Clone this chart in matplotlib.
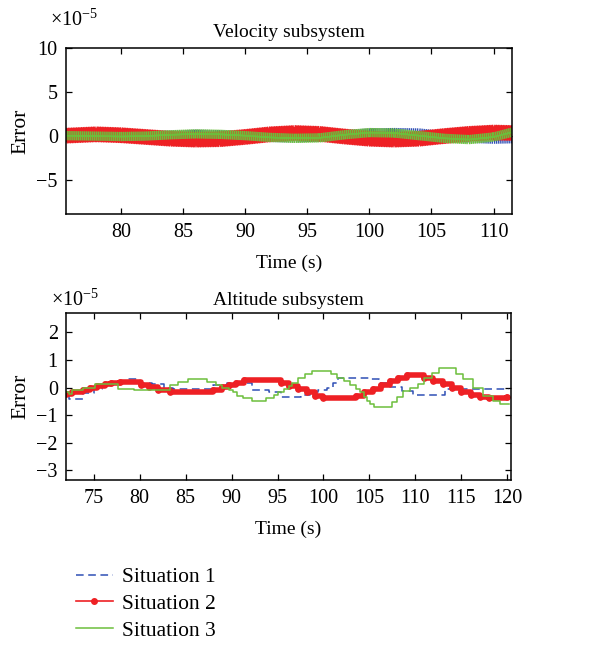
import numpy as np
import matplotlib
matplotlib.use("Agg")
import matplotlib.pyplot as plt
import matplotlib.patheffects as pe
from matplotlib.lines import Line2D

plt.rcParams['font.family'] = ['Liberation Serif', 'DejaVu Serif']
plt.rcParams['mathtext.fontset'] = 'custom'
plt.rcParams['mathtext.rm'] = 'Liberation Serif'

# ---- data (units of 1e-5) ----
# velocity subsystem: slow trend of each error signal (fast ripple drawn as stroke texture)
vel_t = [75.6, 78, 80, 82, 84, 86, 88, 90, 92, 94, 96, 98, 100, 102, 104, 106, 108, 110, 111.5]
vel_s1 = [0.0, 0.0, -0.05, 0.0, 0.05, 0.15, 0.1, -0.05, -0.2, -0.25, -0.15, 0.1, 0.3, 0.35, 0.3, 0.0, -0.3, -0.4, -0.35]
vel_s2 = [0.0, 0.15, 0.05, -0.15, -0.35, -0.45, -0.4, -0.15, 0.15, 0.3, 0.2, -0.1, -0.35, -0.45, -0.35, -0.05, 0.2, 0.35, 0.3]
vel_s3 = [0.0, -0.05, -0.1, -0.05, 0.1, 0.2, 0.15, 0.0, -0.2, -0.3, -0.25, 0.1, 0.35, 0.3, 0.0, -0.3, -0.45, -0.15, 0.4]

# altitude subsystem: step change points (time, value)
alt_t1 = [72.0, 72.3, 73.8, 75.0, 75.9, 76.9, 78.5, 80.0, 81.3, 82.7, 83.6, 88.0, 89.5, 91.0,
          92.2, 94.1, 95.4, 97.6, 98.5, 99.4, 100.4, 101.0, 101.6, 105.0, 106.0, 107.2, 108.5,
          109.7, 113.2, 120.2]
alt_s1 = [-0.3, -0.42, -0.2, -0.05, 0.06, 0.15, 0.3, 0.18, 0.12, 0.0, -0.06, 0.08, 0.18, 0.15,
          -0.08, -0.18, -0.33, -0.28, -0.18, -0.08, 0.0, 0.18, 0.36, 0.3, 0.18, 0.03, -0.12,
          -0.27, -0.06, -0.06]
alt_t2 = [72.0, 72.6, 73.8, 74.6, 75.4, 76.2, 76.9, 77.9, 80.1, 81.0, 82.0, 83.3, 88.0, 89.0,
          89.7, 90.5, 91.4, 95.4, 96.3, 97.25, 98.2, 99.1, 99.9, 103.5, 104.4, 105.4, 106.3,
          107.2, 108.1, 109.1, 110.9, 111.9, 113.0, 114.0, 115.0, 116.0, 117.0, 118.0, 120.0]
alt_s2 = [-0.22, -0.15, -0.08, 0.0, 0.06, 0.12, 0.18, 0.2, 0.08, 0.03, -0.08, -0.18, -0.1, 0.02,
          0.08, 0.18, 0.27, 0.18, 0.06, -0.06, -0.18, -0.3, -0.38, -0.3, -0.18, -0.04, 0.08,
          0.24, 0.36, 0.45, 0.36, 0.24, 0.12, 0.0, -0.15, -0.28, -0.35, -0.38, -0.36]
alt_t3 = [72.0, 72.3, 72.6, 73.8, 75.1, 77.6, 79.4, 83.3, 84.2, 85.3, 87.3, 88.3, 89.0, 89.7,
          90.2, 90.6, 91.25, 92.2, 93.7, 94.6, 95.1, 95.7, 96.2, 96.6, 97.25, 98.0, 98.7,
          100.8, 101.5, 102.25, 102.9, 103.5, 104.0, 104.4, 104.75, 105.1, 105.5, 107.5, 108.0,
          108.6, 109.4, 110.3, 110.9, 111.85, 112.6, 114.4, 115.2, 116.3, 117.4, 118.4, 119.2,
          119.9, 120.2]
alt_s3 = [-0.15, -0.25, -0.08, 0.0, 0.12, -0.04, -0.08, 0.08, 0.2, 0.32, 0.2, 0.1, 0.0, -0.08,
          -0.18, -0.3, -0.38, -0.48, -0.38, -0.27, -0.18, -0.06, 0.06, 0.18, 0.36, 0.48, 0.6,
          0.48, 0.36, 0.24, 0.08, -0.06, -0.18, -0.33, -0.48, -0.6, -0.69, -0.54, -0.36,
          -0.12, 0.0, 0.12, 0.36, 0.54, 0.71, 0.5, 0.3, 0.0, -0.3, -0.5, -0.6, -0.6, -0.6]

labels = ['Situation 1', 'Situation 2', 'Situation 3']
c_blue = '#2f4fb5'
c_red = '#ee2024'
c_green = '#6cbf3c'

fig = plt.figure(figsize=(6.12, 6.46), dpi=100)
ax1 = fig.add_axes([0.108, 0.669, 0.729, 0.257])
ax2 = fig.add_axes([0.108, 0.257, 0.727, 0.2585])


def ripple(color, spacing, length, lw=1.0):
    return [pe.withTickedStroke(spacing=spacing, angle=90, length=length, linewidth=lw, foreground=color),
            pe.withTickedStroke(spacing=spacing, angle=-90, length=length, linewidth=lw, foreground=color),
            pe.Normal()]


ax1.plot(vel_t, vel_s1, color=c_blue, lw=1, path_effects=ripple(c_blue, 1.5, 1.9))
ax1.plot(vel_t, vel_s2, color=c_red, lw=8.5, solid_capstyle='round', solid_joinstyle='round',
         path_effects=ripple(c_red, 1.2, 4.3, 1.2))
ax1.plot(vel_t, vel_s3, color=c_green, lw=1, path_effects=ripple(c_green, 1.4, 2.0, 1.1))

ax2.plot(alt_t1, alt_s1, color=c_blue, lw=1.1, ls=(0, (5, 3)), drawstyle='steps-post')
ax2.plot(alt_t2, alt_s2, color=c_red, lw=4, drawstyle='steps-post', marker='o', ms=3.8,
         solid_capstyle='round')
ax2.plot(alt_t3, alt_s3, color=c_green, lw=1.1, drawstyle='steps-post')

ax1.set_xlim(75.6, 111.5)
ax1.set_ylim(-8.9, 10)
ax1.set_xticks([80, 85, 90, 95, 100, 105, 110])
ax1.set_yticks([-5, 0, 5, 10])
ax1.set_yticklabels(['\u22125', '0', '5', '10'])
ax1.set_title('Velocity subsystem', fontsize=14, pad=8)

ax2.set_xlim(72, 120.4)
ax2.set_ylim(-3.35, 2.7)
ax2.set_xticks([75, 80, 85, 90, 95, 100, 105, 110, 115, 120])
ax2.set_yticks([-3, -2, -1, 0, 1, 2])
ax2.set_yticklabels(['\u22123', '\u22122', '\u22121', '0', '1', '2'])
ax2.set_title('Altitude subsystem', fontsize=14, pad=6)

for ax, yoff in ((ax1, 1.17), (ax2, 1.08)):
    ax.tick_params(direction='in', top=True, right=True, labelsize=14.5, length=4, width=0.9)
    ax.tick_params(axis='x', pad=6.5)
    ax.tick_params(axis='y', pad=6)
    ax.set_xlabel('Time (s)', fontsize=14, labelpad=9)
    ax.set_ylabel('Error', fontsize=15.5, labelpad=4)
    for s in ax.spines.values():
        s.set_linewidth(1.1)
    ax.text(-0.035, yoff, r'$\times10^{-5}$', transform=ax.transAxes, fontsize=14.5,
            ha='left', va='center')

handles = [Line2D([], [], color=c_blue, lw=1.1, ls=(0, (5, 3))),
           Line2D([], [], color=c_red, lw=1.2, marker='o', ms=4),
           Line2D([], [], color=c_green, lw=1.1)]
fig.legend(handles, labels, loc='upper left', bbox_to_anchor=(0.11, 0.135), frameon=False,
           fontsize=15.5, handlelength=1.7, handletextpad=0.45, labelspacing=0.3,
           borderaxespad=0)

fig.savefig('out.png', dpi=100)
